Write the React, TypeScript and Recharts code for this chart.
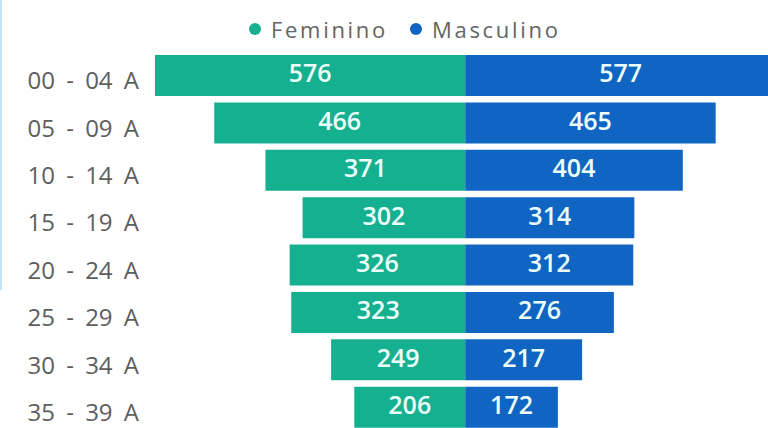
import React from "react";
import { BarChart, Bar, XAxis, YAxis, Legend, LabelList } from "recharts";

const categories = ["00 - 04 A", "05 - 09 A", "10 - 14 A", "15 - 19 A", "20 - 24 A", "25 - 29 A", "30 - 34 A", "35 - 39 A"];
const feminino = [576, 466, 371, 302, 326, 323, 249, 206];
const masculino = [577, 465, 404, 314, 312, 276, 217, 172];

const TEAL = "#15b08f";
const BLUE = "#1165c2";
const FONT = "'Open Sans', 'Noto Sans', sans-serif";

const data = categories.map((c, i) => ({ cat: c, fem: -feminino[i], masc: masculino[i] }));

const YTick = (props: any) => {
  const { x, y, payload } = props;
  return (
    <text
      x={x}
      y={y + 5 + 0.357 * 24}
      textAnchor="end"
      fill="#5e5e5e"
      fontSize={24}
      fontFamily={FONT}
      style={{ wordSpacing: "5px" }}
    >
      {payload.value}
    </text>
  );
};

const BarLabel = (props: any) => {
  const { x, y, width, height, value } = props;
  const fs = 25;
  return (
    <text
      x={x + width / 2}
      y={y + height / 2 + 0.357 * fs - 2}
      textAnchor="middle"
      fill="#ecfffb"
      fontSize={fs}
      fontWeight={600}
      fontFamily={FONT}
    >
      {Math.abs(Number(value))}
    </text>
  );
};

const renderLegend = (props: any) => {
  const payload = props.payload || [];
  return (
    <div style={{ display: "flex", alignItems: "center", fontFamily: FONT, fontSize: 22, lineHeight: "24px", color: "#646464", letterSpacing: "2.7px", whiteSpace: "nowrap" }}>
      {payload.map((entry: any, i: number) => (
        <div key={i} style={{ display: "flex", alignItems: "center", marginRight: 22 }}>
          <span style={{ display: "inline-block", width: 12, height: 12, borderRadius: "50%", background: entry.color, marginRight: 10 }} />
          <span>{entry.value}</span>
        </div>
      ))}
    </div>
  );
};

export default function App() {
  return (
    <div style={{ position: "fixed", left: 0, top: 0, width: 768, height: 428, overflow: "hidden", background: "#fff" }}>
      <div style={{ position: "absolute", left: 0, top: 0, width: 2, height: 290, background: "#c4e2f5" }} />
      <BarChart
        width={800}
        height={431}
        data={data}
        layout="vertical"
        stackOffset="sign"
        barCategoryGap={3}
        margin={{ top: 52, right: 24, bottom: 0, left: 0 }}
      >
        <XAxis type="number" domain={[-576, 577]} hide />
        <YAxis
          type="category"
          dataKey="cat"
          width={155}
          axisLine={false}
          tickLine={false}
          tick={<YTick />}
          interval={0}
          tickMargin={10}
        />
        <Legend
          verticalAlign="middle"
          align="center"
          layout="horizontal"
          content={renderLegend}
          wrapperStyle={{ top: 17, left: 249, width: "auto", height: "auto" }}
        />
        <Bar dataKey="fem" name="Feminino" stackId="a" fill={TEAL} isAnimationActive={false}>
          <LabelList dataKey="fem" content={<BarLabel />} />
        </Bar>
        <Bar dataKey="masc" name="Masculino" stackId="a" fill={BLUE} isAnimationActive={false}>
          <LabelList dataKey="masc" content={<BarLabel />} />
        </Bar>
      </BarChart>
    </div>
  );
}
